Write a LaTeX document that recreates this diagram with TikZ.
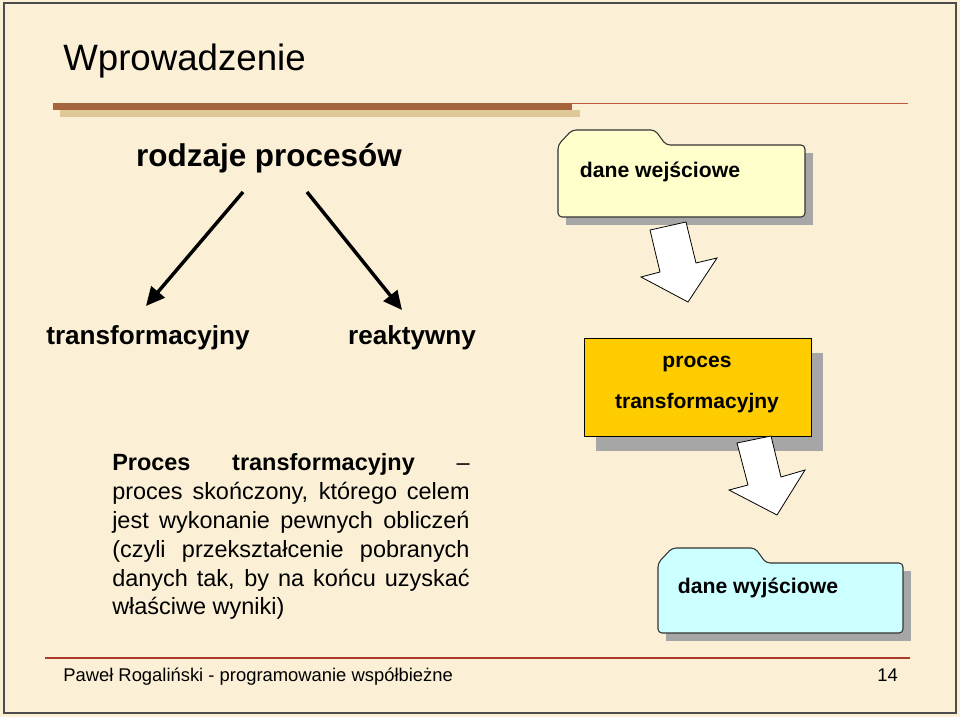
\documentclass[tikz,border=0pt]{standalone}
\usepackage{fontspec}
\setmainfont{Liberation Sans}
\usetikzlibrary{arrows.meta}
\definecolor{bgc}{RGB}{251,240,214}
\definecolor{barshadow}{RGB}{222,200,150}
\definecolor{barc}{RGB}{165,100,60}
\definecolor{linec}{RGB}{190,90,60}
\definecolor{footc}{RGB}{170,60,40}
\definecolor{yel}{RGB}{255,255,204}
\definecolor{cyanc}{RGB}{204,255,255}
\definecolor{goldc}{RGB}{255,204,0}
\begin{document}
\begin{tikzpicture}[x=0.75pt,y=-0.75pt,
  shadowc/.style={fill=black!35,draw=none},
  folder/.style={draw=black!80,line width=0.8pt,rounded corners=3pt},
  blk/.style={draw=black,fill=white,line width=0.6pt,line join=miter},
  conn/.style={line width=2.6pt,-{Triangle[length=14pt,width=13pt]}},
  lbl/.style={font=\bfseries\fontsize{19.6}{22}\selectfont,inner sep=0pt}]
\path[use as bounding box,fill=bgc] (0,0) rectangle (960,717);
\draw[black!70,line width=1pt] (4,3) rectangle (956,713);
\node[anchor=base west,inner sep=0pt,font=\fontsize{27.5}{30}\selectfont] (title) at (63,70) {Wprowadzenie};
% header bar
\fill[barshadow] (60,110) rectangle (580,117);
\fill[barc] (53,103) rectangle (572,110);
\draw[linec,line width=0.8pt] (572,103.5) -- (908,103.5);
% left part
\node[font=\bfseries\fontsize{23.6}{26}\selectfont,inner sep=0pt] (rp) at (269,158) {rodzaje procesów};
\node[lbl] (tr) at (148,338) {transformacyjny};
\node[lbl] (re) at (412,338) {reaktywny};
\coordinate (a1) at (243,192); \coordinate (a1e) at (146,306);
\coordinate (a2) at (307,192); \coordinate (a2e) at (402,310);
\draw[conn] (a1) -- (a1e);
\draw[conn] (a2) -- (a2e);
\begin{scope}[font=\fontsize{17.6}{20}\selectfont]
\node[anchor=base west,inner sep=0pt] (p1) at (112,470) {\makebox[268pt][s]{\textbf{Proces transformacyjny} –}};
\node[anchor=base west,inner sep=0pt] (p2) at (112,499) {\makebox[268pt][s]{proces skończony, którego celem}};
\node[anchor=base west,inner sep=0pt] (p3) at (112,528) {\makebox[268pt][s]{jest wykonanie pewnych obliczeń}};
\node[anchor=base west,inner sep=0pt] (p4) at (112,557) {\makebox[268pt][s]{(czyli przekształcenie pobranych}};
\node[anchor=base west,inner sep=0pt] (p5) at (112,586) {\makebox[268pt][s]{danych tak, by na końcu uzyskać}};
\node[anchor=base west,inner sep=0pt] (p6) at (112,614) {właściwe wyniki)};
\end{scope}
% folder 1
\fill[shadowc] (566,153) rectangle (813,225);
\draw[folder,fill=yel] (558,217) -- (558,145) -- (572,130) -- (655,130) -- (666,145) -- (805,145) -- (805,217) -- cycle;
\node[font=\bfseries\fontsize{15.9}{18}\selectfont,inner sep=0pt] (din) at (660,172) {dane wejściowe};
% arrow 1
\draw[blk] (650,230) -- (686,222) -- (696,263) -- (717,258) -- (688,302) -- (641,277) -- (660,272) -- cycle;
% proces box
\fill[shadowc] (596,353) rectangle (823,451);
\node[draw=black,line width=0.8pt,fill=goldc,minimum width=170pt,minimum height=73.5pt,anchor=north west,inner sep=0pt] (pt) at (584,338) {};
\node[font=\bfseries\fontsize{15.8}{18}\selectfont,inner sep=0pt] (pt1) at (697,364) {proces};
\node[font=\bfseries\fontsize{15.8}{18}\selectfont,inner sep=0pt] (pt2) at (697,403) {transformacyjny};
% arrow 2
\draw[blk] (737,443) -- (771,436) -- (781,477) -- (805,470) -- (777,515) -- (729,490) -- (748,485) -- cycle;
% folder 2
\fill[shadowc] (666,571) rectangle (911,641);
\draw[folder,fill=cyanc] (658,633) -- (658,563) -- (672,548) -- (755,548) -- (766,563) -- (903,563) -- (903,633) -- cycle;
\node[font=\bfseries\fontsize{15.9}{18}\selectfont,inner sep=0pt] (dout) at (758,588) {dane wyjściowe};
% footer
\draw[footc,line width=1pt] (45,658) -- (910,658);
\node[anchor=base west,inner sep=0pt,font=\fontsize{13.8}{16}\selectfont] (ft) at (63,681) {Paweł Rogaliński - programowanie współbieżne};
\node[anchor=base east,inner sep=0pt,font=\fontsize{13.8}{16}\selectfont] (pg) at (898,681) {14};
\end{tikzpicture}
\end{document}
